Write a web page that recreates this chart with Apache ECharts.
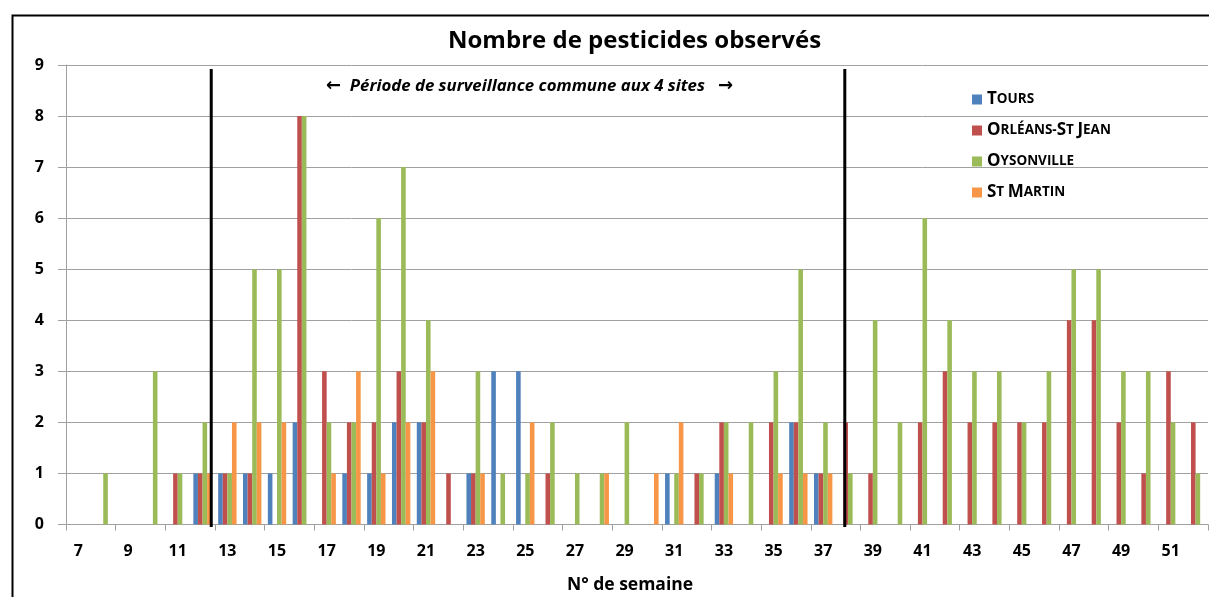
<!DOCTYPE html>
<html>
<head>
<meta charset="utf-8">
<script src="https://cdn.jsdelivr.net/npm/echarts@6/dist/echarts.min.js"></script>
<style>
html,body{margin:0;padding:0;background:#fff;}
#c{width:1209px;height:597px;}
</style>
</head>
<body>
<div id="c"></div>
<script>
const weeks = [7,8,9,10,11,12,13,14,15,16,17,18,19,20,21,22,23,24,25,26,27,28,29,30,31,32,33,34,35,36,37,38,39,40,41,42,43,44,45,46,47,48,49,50,51,52].map(String);
const tours      = [0,0,0,0,0,1,1,1,1,2,0,1,1,2,2,0,1,3,3,0,0,0,0,0,1,0,1,0,0,2,1,0,0,0,0,0,0,0,0,0,0,0,0,0,0,0];
const orleans    = [0,0,0,0,1,1,1,1,0,8,3,2,2,3,2,1,1,0,0,1,0,0,0,0,0,1,2,0,2,2,1,2,1,0,2,3,2,2,2,2,4,4,2,1,3,2];
const oysonville = [0,1,0,3,1,2,1,5,5,8,2,2,6,7,4,0,3,1,1,2,1,1,2,0,1,1,2,2,3,5,2,1,4,2,6,4,3,3,2,3,5,5,3,3,2,1];
const stMartin   = [0,0,0,0,0,1,2,2,2,0,1,3,1,2,3,0,1,0,2,0,0,1,0,1,2,0,1,0,1,1,1,0,0,0,0,0,0,0,0,0,0,0,0,0,0,0];
const seriesNames = ['Tours','Orléans-St Jean','Oysonville','St Martin'];
const legendRich = {
  'Tours': '{b|T}{s|OURS}',
  'Orléans-St Jean': '{b|O}{s|RLÉANS-}{b|S}{s|T }{b|J}{s|EAN}',
  'Oysonville': '{b|O}{s|YSONVILLE}',
  'St Martin': '{b|S}{s|T }{b|M}{s|ARTIN}'
};
const periodBounds = [12.35, 37.87];
const periodTop = 8.92;
const periodLabel = '{a|\u2190}  Période de surveillance commune aux 4 sites   {a|\u2192}';
const colors = ['#4F81BD','#C0504D','#9BBB59','#F79646'];
const FONT = 'Open Sans';

const chart = echarts.init(document.getElementById('c'));
const values = [tours, orleans, oysonville, stMartin];
const barSeries = seriesNames.map((n,i)=>({
  name:n, type:'bar', data: values[i], barGap:'0%', barCategoryGap:'26%',
  itemStyle:{color:colors[i]}, xAxisIndex:0, yAxisIndex:0
}));
const lineSeries = periodBounds.map((b,i)=>({
  name:'periode'+i, type:'line', xAxisIndex:1, yAxisIndex:0, clip:false, silent:true,
  symbol:'none', data:[[b,-0.05],[b,periodTop]],
  lineStyle:{color:'#000',width:3}, z:5
}));
chart.setOption({
  animation:false,
  textStyle:{fontFamily:FONT},
  title:{text:'Nombre de pesticides observés', left:443, top:24,
    textStyle:{fontFamily:FONT,fontWeight:'bold',fontSize:24,color:'#000'}},
  grid:{left:66, right:1, top:65, bottom:72.5, outerBoundsMode:'none', containLabel:false},
  legend:{
    data:seriesNames, orient:'vertical', left:967, top:86, itemWidth:10, itemHeight:10,
    itemGap:14, icon:'rect',
    formatter:(n)=>legendRich[n],
    textStyle:{rich:{
      b:{fontFamily:FONT,fontWeight:'bold',fontSize:17,color:'#000',lineHeight:17},
      s:{fontFamily:FONT,fontWeight:'bold',fontSize:13.5,color:'#000',lineHeight:17}
    }}
  },
  xAxis:[{
    type:'category', data:weeks, name:'N° de semaine', nameLocation:'middle', nameGap:52,
    nameTextStyle:{fontFamily:FONT,fontWeight:'bold',fontSize:17.5,color:'#000',padding:[0,14,0,0]},
    axisLine:{lineStyle:{color:'#A0A0A0'}},
    axisTick:{show:true,interval:1,length:6,lineStyle:{color:'#A0A0A0'}},
    axisLabel:{interval:1, margin:19, fontFamily:FONT, fontWeight:'bold', fontSize:16, color:'#000'},
    splitLine:{show:false}
  },{
    type:'value', min:6.5, max:52.5, show:false
  }],
  yAxis:{
    type:'value', min:0, max:9, interval:1,
    axisLine:{show:true,lineStyle:{color:'#A0A0A0'}},
    axisTick:{show:true,length:8,lineStyle:{color:'#A0A0A0'}},
    axisLabel:{margin:22, fontFamily:FONT, fontWeight:'bold', fontSize:16, color:'#000'},
    splitLine:{lineStyle:{color:'#A0A0A0',width:1}}
  },
  graphic:[
    {type:'rect', left:10, top:13, shape:{width:1230, height:620}, style:{fill:'none',stroke:'#000',lineWidth:2}, silent:true, z:-1},
    {type:'text', left:326, top:77, style:{text:periodLabel, fontFamily:FONT, fontStyle:'italic', fontWeight:'bold', fontSize:16.8, fill:'#000',
      rich:{a:{fontFamily:'DejaVu Sans',fontWeight:'bold',fontStyle:'normal',fontSize:18,fill:'#000'}}}}
  ],
  series: barSeries.concat(lineSeries)
});
</script>
</body>
</html>
